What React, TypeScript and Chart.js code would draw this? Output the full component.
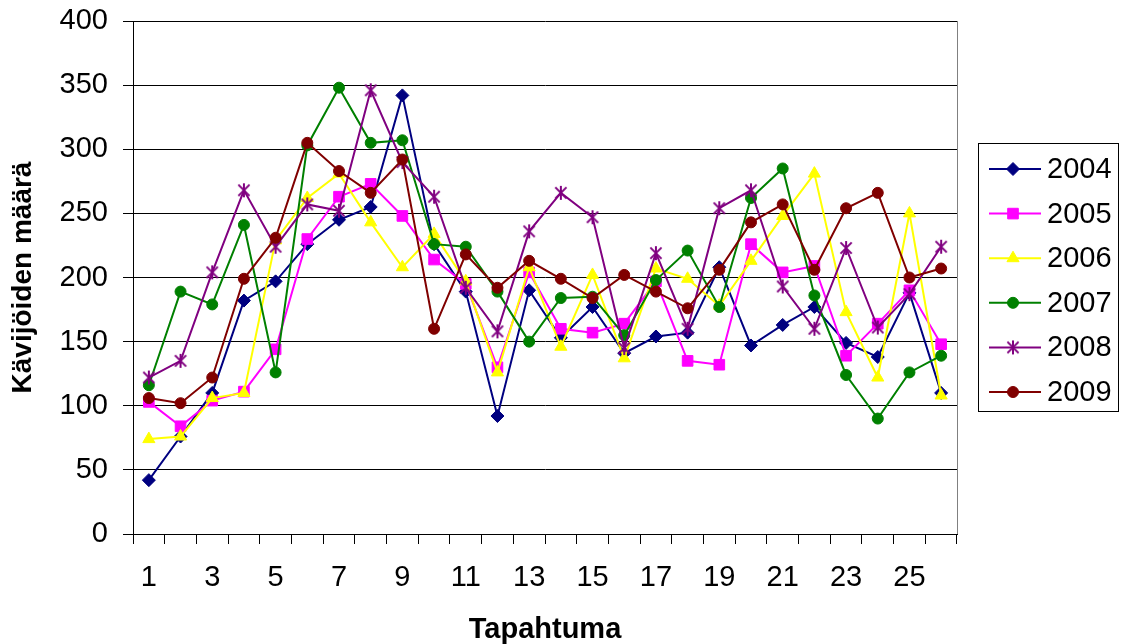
import { useEffect, useRef } from "react";
import { Chart, registerables } from "chart.js";

Chart.register(...registerables);

const categories = ["1", "2", "3", "4", "5", "6", "7", "8", "9", "10", "11", "12", "13", "14", "15", "16", "17", "18", "19", "20", "21", "22", "23", "24", "25", "26"];
const xTickLabels = ["1", "", "3", "", "5", "", "7", "", "9", "", "11", "", "13", "", "15", "", "17", "", "19", "", "21", "", "23", "", "25", ""];
const yTicks = [0, 50, 100, 150, 200, 250, 300, 350, 400];

const names = ["2004", "2005", "2006", "2007", "2008", "2009"];
const v2004 = [42, 76, 110, 182, 197, 226, 245, 255, 342, 226, 189, 92, 190, 153, 177, 141, 154, 157, 208, 147, 163, 177, 149, 138, 188, 110];
const v2005 = [103, 84, 104, 111, 144, 230, 263, 273, 248, 214, 195, 130, 204, 160, 157, 164, 197, 135, 132, 226, 204, 209, 139, 164, 190, 148];
const v2006 = [74, 76, 106, 110, 229, 262, 281, 243, 208, 234, 197, 126, 208, 146, 202, 137, 207, 199, 178, 213, 248, 281, 173, 122, 250, 108];
const v2007 = [116, 189, 179, 241, 126, 303, 348, 305, 307, 226, 224, 189, 150, 184, 185, 155, 198, 221, 177, 262, 285, 186, 124, 90, 126, 139];
const v2008 = [122, 135, 204, 268, 224, 257, 252, 346, 290, 263, 192, 158, 236, 266, 247, 145, 219, 160, 254, 268, 193, 160, 223, 161, 187, 224];
const v2009 = [106, 102, 122, 199, 231, 305, 283, 266, 292, 160, 218, 192, 213, 199, 184, 202, 189, 176, 206, 243, 257, 206, 254, 266, 200, 207];
const values = [v2004, v2005, v2006, v2007, v2008, v2009];
const colors = ["#000080", "#FF00FF", "#FFFF00", "#008000", "#800080", "#800000"];
const markers = ["rectRot", "rect", "triangle", "circle", "asterisk", "circle"];
const radii = [6.5, 7.5, 7, 5.5, 7, 5.5];

const FONT = "'Liberation Sans', Arial, sans-serif";

function makeAsterisk(color: string, r: number) {
  const size = Math.ceil(r * 2 + 4);
  const c = document.createElement("canvas");
  c.width = size;
  c.height = size;
  const ctx = c.getContext("2d")!;
  const m = size / 2;
  ctx.strokeStyle = color;
  ctx.lineWidth = 2;
  ctx.beginPath();
  ctx.moveTo(m, m - r);
  ctx.lineTo(m, m + r);
  const d = r * 0.8;
  ctx.moveTo(m - d, m - d);
  ctx.lineTo(m + d, m + d);
  ctx.moveTo(m + d, m - d);
  ctx.lineTo(m - d, m + d);
  ctx.stroke();
  return c;
}

function drawMarker(ctx: CanvasRenderingContext2D, style: any, x: number, y: number, r: number, color: string) {
  ctx.save();
  ctx.fillStyle = color;
  ctx.strokeStyle = color;
  ctx.lineWidth = 1;
  if (typeof style !== "string") {
    ctx.drawImage(style, x - style.width / 2, y - style.height / 2);
    ctx.restore();
    return;
  }
  ctx.beginPath();
  if (style === "rectRot") {
    ctx.moveTo(x, y - r);
    ctx.lineTo(x + r, y);
    ctx.lineTo(x, y + r);
    ctx.lineTo(x - r, y);
    ctx.closePath();
  } else if (style === "rect") {
    const s = r * Math.SQRT1_2;
    ctx.rect(x - s, y - s, 2 * s, 2 * s);
  } else if (style === "triangle") {
    ctx.moveTo(x, y - r);
    ctx.lineTo(x + r * 0.866, y + r * 0.5);
    ctx.lineTo(x - r * 0.866, y + r * 0.5);
    ctx.closePath();
  } else {
    ctx.arc(x, y, r, 0, Math.PI * 2);
  }
  ctx.fill();
  ctx.stroke();
  ctx.restore();
}

export default function App() {
  const ref = useRef<HTMLCanvasElement>(null);

  useEffect(() => {
    document.body.style.margin = "0";
    const canvas = ref.current!;
    const styles: any[] = markers.map((m, i) => (m === "asterisk" ? makeAsterisk(colors[i], radii[i]) : m));

    const legendPlugin = {
      id: "boxLegend",
      afterDraw(chart: any) {
        const ctx: CanvasRenderingContext2D = chart.ctx;
        const area = chart.chartArea;
        ctx.save();
        // right border of plot area
        ctx.strokeStyle = "#808080";
        ctx.lineWidth = 1;
        ctx.beginPath();
        ctx.moveTo(Math.round(area.right) + 0.5, area.top);
        ctx.lineTo(Math.round(area.right) + 0.5, area.bottom);
        ctx.stroke();
        // legend box
        const bx = 978.5, by = 143.5, bw = 140, bh = 268;
        ctx.strokeStyle = "#000";
        ctx.strokeRect(bx, by, bw, bh);
        const startY = 169;
        const step = 44.6;
        ctx.font = `29px ${FONT}`;
        ctx.textBaseline = "middle";
        ctx.textAlign = "left";
        names.forEach((n, i) => {
          const y = startY + i * step;
          ctx.strokeStyle = colors[i];
          ctx.lineWidth = 2;
          ctx.beginPath();
          ctx.moveTo(989, y);
          ctx.lineTo(1041, y);
          ctx.stroke();
          drawMarker(ctx, styles[i], 1013, y, radii[i], colors[i]);
          ctx.fillStyle = "#000";
          ctx.fillText(n, 1047, y + 1);
        });
        ctx.restore();
      },
    };

    const chart = new Chart(canvas, {
      type: "line",
      data: {
        labels: categories,
        datasets: names.map((n, i) => ({
          label: n,
          data: values[i],
          borderColor: colors[i],
          backgroundColor: colors[i],
          pointBackgroundColor: colors[i],
          pointBorderColor: colors[i],
          pointBorderWidth: 1,
          pointStyle: styles[i],
          pointRadius: radii[i],
          borderWidth: 2,
          tension: 0,
          fill: false,
          order: names.length - i,
        })),
      },
      options: {
        animation: false,
        responsive: false,
        devicePixelRatio: 1,
        layout: { padding: { left: 0, top: 21, right: 178, bottom: 0 } },
        plugins: { legend: { display: false }, tooltip: { enabled: false } },
        scales: {
          x: {
            type: "category",
            offset: true,
            grid: { display: true, drawOnChartArea: false, drawTicks: true, tickLength: 10, offset: true, color: "#000", lineWidth: 1 },
            border: { display: true, color: "#000", width: 1 },
            ticks: {
              autoSkip: false,
              maxRotation: 0,
              minRotation: 0,
              padding: 17,
              color: "#000",
              font: { family: FONT, size: 29 },
              callback: (_v: any, i: number) => xTickLabels[i],
            },
            title: { display: true, text: "Tapahtuma", color: "#000", font: { family: FONT, size: 29, weight: "bold", lineHeight: 1 }, padding: 0 },
            afterFit: (s: any) => {
              s.height = 110;
              s.paddingLeft = 0;
              s.paddingRight = 0;
            },
          },
          y: {
            min: 0,
            max: 400,
            afterBuildTicks: (s: any) => {
              s.ticks = yTicks.map((v) => ({ value: v }));
            },
            ticks: { stepSize: 50, padding: 15, color: "#000", font: { family: FONT, size: 29 } },
            grid: { color: "#000", lineWidth: 1, tickLength: 10, drawTicks: true },
            border: { color: "#000", width: 1 },
            title: { display: true, text: "Kävijöiden määrä", color: "#000", font: { family: FONT, size: 28, weight: "bold", lineHeight: 1 }, padding: { top: 9, bottom: 0 } },
            afterFit: (s: any) => {
              s.width = 133;
              s.paddingTop = 0;
              s.paddingBottom = 0;
            },
          },
        },
      },
      plugins: [legendPlugin],
    } as any);
    return () => chart.destroy();
  }, []);

  return (
    <div style={{ position: "absolute", left: 0, top: 0, width: 1135, height: 644, background: "#fff" }}>
      <canvas ref={ref} width={1135} height={644} style={{ width: 1135, height: 644, display: "block" }} />
    </div>
  );
}
